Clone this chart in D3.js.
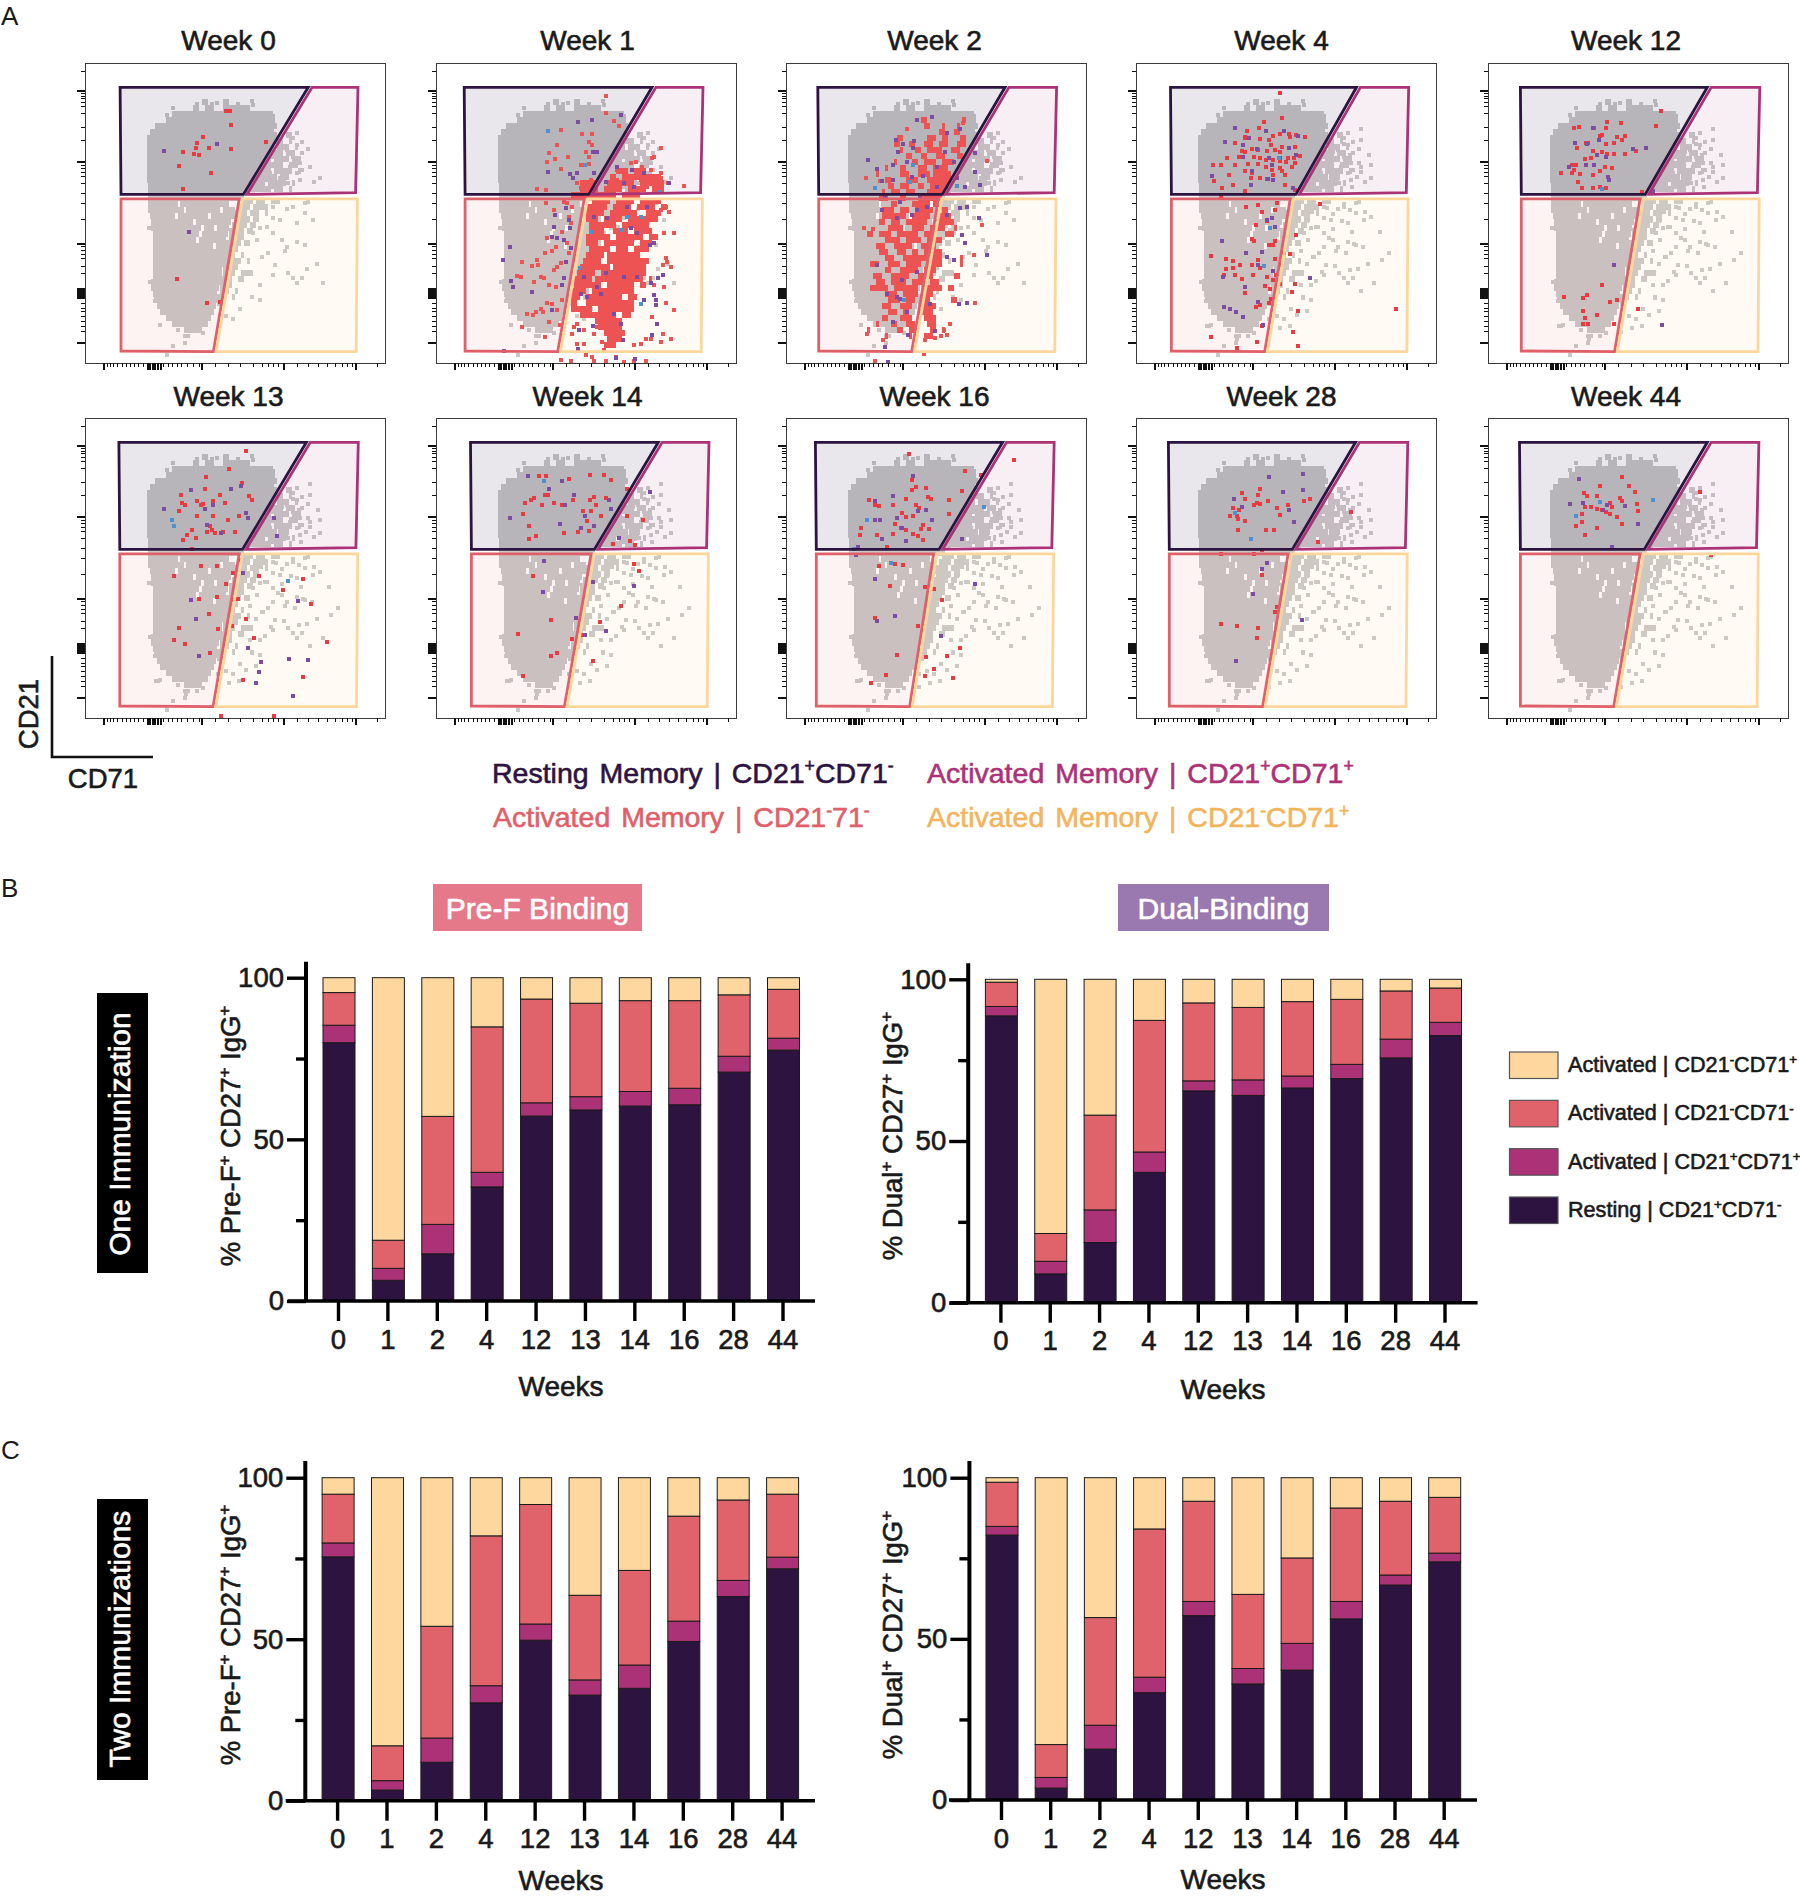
<!DOCTYPE html>
<html><head><meta charset="utf-8">
<script src="https://cdn.jsdelivr.net/npm/d3@7"></script>
<style>
html,body{margin:0;padding:0;background:#fff}
svg{display:block}
text{font-family:"Liberation Sans",Arial,sans-serif;fill:#1a1a1a}
.med{stroke:#1a1a1a;stroke-width:.6px}
</style></head><body>
<svg id="c" width="1800" height="1896"></svg>
<script>
// ---------- categories / labels ----------
const weekTicks = ["0","1","2","4","12","13","14","16","28","44"];
const panelTitles = ["Week 0","Week 1","Week 2","Week 4","Week 12","Week 13","Week 14","Week 16","Week 28","Week 44"];
const seriesKeys = ["resting","plus","neg","pos"];
const seriesColors = ["#2d1340","#ac3277","#e0636b","#fdd79d"];
const legendLabels = ["Activated | CD21^-CD71^+","Activated | CD21^-CD71^-","Activated | CD21^+CD71^+","Resting | CD21^+CD71^-"];

// ---------- stacked bar values (percent) ----------
const preOneResting=[79.9,6.4,14.6,35.3,57.2,59.1,60.3,60.7,70.8,77.6];
const preOnePlus=[5.4,3.7,9.1,4.5,4.1,4.1,4.5,5.1,4.9,3.7];
const preOneNeg=[10.1,8.7,33.4,45,32.1,28.9,28.1,27.1,19,15.1];
const preOnePos=[4.6,81.2,42.9,15.2,6.6,7.9,7.1,7.1,5.3,3.6];
const dualOneResting=[88.7,8.9,18.6,40.3,65.5,64.1,66.4,69.3,75.7,82.6];
const dualOnePlus=[2.9,3.9,10.1,6.3,3.1,4.8,3.7,4.4,5.8,4.1];
const dualOneNeg=[7.5,8.6,29.3,40.7,24.1,22.4,23,20.1,14.9,10.6];
const dualOnePos=[0.9,78.6,42,12.7,7.3,8.7,6.9,6.2,3.6,2.7];
const preTwoResting=[75.5,3.3,11.9,30.3,49.7,32.7,34.8,49.3,63.2,71.8];
const preTwoPlus=[4.3,2.9,7.5,5.3,5,4.7,7.2,6.3,5,3.6];
const preTwoNeg=[15.1,10.8,34.6,46.4,37,26.2,29.3,32.5,24.9,19.5];
const preTwoPos=[5.1,83,46,18,8.3,36.4,28.7,11.9,6.9,5.1];
const dualTwoResting=[82.2,3.7,15.8,33.3,57.2,36,40.3,56.2,66.7,73.9];
const dualTwoPlus=[2.7,3.3,7.4,4.8,4.4,4.8,8.3,5.4,3.1,2.7];
const dualTwoNeg=[13.7,10.2,33.4,46,31.1,23,26.5,29,22.9,17.3];
const dualTwoPos=[1.4,82.8,43.4,15.9,7.3,36.2,24.9,9.4,7.3,6.1];

// ---------- gates, in percent of the plot width / height, one per flow panel ----------
const gateLeft=[11.7,9.4,10.6,11.5,10.8,11.3,11.5,9.8,10.8,10.5];
const gateTopRight=[74.4,72,73,73.5,73.1,73.8,74.1,72.2,73.2,73.1];
const gateApex=[52.8,50.9,52.1,53.3,52.4,52.5,52.8,51,52.1,52.1];
const gateSplitTop=[51.4,49.4,50.8,51.4,50.7,51.4,51.7,49.2,50.7,50.7];
const gateSplitBottom=[42.8,40.6,41.9,42.9,42.2,42.7,42.8,41.2,42.2,41.9];
const gateRight=[91,89,90.2,90.9,90.6,91.1,91,89.4,90.6,90.3];

// ---------- background population: rows [v, u0, u1, u0, u1 ...] in percent of the plot ----------
const greyRows=[[13,39,41,46,48],[15,36,38,40,43,46,55],[17,29,62.8],[19,27,63.3],[21,23.3,64],[23,21.5,63],[25,20.8,62],[27,20.5,61.7],[29,20.5,61],[31,20.5,60],[33,20.5,59.4],[35,20.5,58],[37,20.5,57.5],[39,20.5,57.5],[41,21,57],[43,21,55],[45,21,53],[47,21,31,31.8,48],[49,21,33,33.8,45,46,50],[51,21.5,30,31,41,42,50],[53,22,36,37,48.5],[55,22,38.5,39.5,43,44,48],[57,22.5,38,39,47.5],[59,22.5,37,38,47],[61,22.5,42.5,43.5,47],[63,22.5,46.5],[65,22.5,46],[67,22.5,46],[69,22.5,45.8],[71,22.5,45.5],[73,22,45],[75,22,44.5],[77,22.5,44],[79,23,44],[81,24,43.5],[83,25,43],[85,27,42],[87,29,41],[89,33,39]];
const greyShoulder=[[24,62,64,67,69],[26,60,66,68,69],[28,60,63,64,68,70,71],[30,60,66,67,70],[32,58,62,63,68,69,72],[34,58,66,68,71],[36,57,62,63,69,71,72],[38,56,64,65,68],[40,55,60,61,67,69,70],[42,54,62,63,66,68,69],[46,52,56,57,60,62,65],[48,51,55,56,61],[50,50,54,55,58,60,61],[52,50,55,56,58],[54,49,54,55,57],[56,48,53,54,56],[58,48,53],[60,47,52,53,55],[62,46,51],[64,46,50,52,53],[66,46,52,54,55],[68,46,51],[70,46,50,52,56],[72,45,49,51,53],[74,45,49],[76,45,48,50,51],[78,44,47,49,50],[80,44,46]];
const greySparseA=[[340,295],[320,315],[325,330],[290,350],[410,282],[455,282],[470,280],[495,280],[535,282],[575,273],[580,285],[640,320],[610,310],[710,370],[700,385],[725,395],[710,405],[745,418],[725,430],[660,400],[680,420],[700,440],[640,440],[720,460],[750,470],[710,490],[725,480],[780,505],[763,517],[720,510],[685,520],[660,505],[630,490],[650,470],[670,450],[690,470],[600,470],[620,510],[640,530],[640,590],[610,595],[590,590],[680,597],[700,592],[735,580],[745,575],[735,610],[760,630],[712,640],[660,630],[640,625],[620,650],[600,655],[560,632],[640,670],[665,690],[710,695],[735,705],[590,690],[580,670],[680,710],[675,722],[625,730],[605,742],[645,765],[640,795],[772,762],[742,776],[685,790],[700,805],[710,818],[725,803],[790,818],[600,825],[600,870],[575,860],[540,895],[520,927],[498,918],[408,962],[428,967],[300,945],[375,978],[385,978],[375,997],[338,1008],[320,1035],[268,655],[320,665],[270,815],[285,872],[355,960]];
const greySparseB=[[1365,1005],[1365,1030],[1385,1065],[1360,1085],[1390,1090],[1365,1105],[1355,1118],[1340,1065],[1320,1090],[1300,1060],[1325,1040],[1295,1110],[1310,1130],[1345,1140],[1280,1085],[1325,1180],[1285,1190],[1340,1195],[1375,1200],[1390,1210],[1410,1245],[1345,1245],[1300,1240],[1260,1235],[1240,1220],[1280,1280],[1350,1275],[1370,1280],[1430,1295],[1415,1312],[1330,1295],[1305,1325],[1340,1335],[1275,1340],[1240,1320],[1225,1290],[1260,1360],[1225,1370],[1230,1400],[1365,1383],[1240,1430],[1215,1440],[1200,1465],[1175,1470],[1150,1480],[1100,1490],[1075,1495],[1010,1465],[1150,1450],[1005,1465],[1255,1305],[1290,1260],[1320,1220],[1250,1200],[1300,1205],[1220,1180]];

// ---------- antigen-specific cells, read per panel ----------
const week0Red=[[498,303],[510,305],[512,345],[428,383],[411,400],[408,414],[369,426],[401,433],[418,435],[447,415],[512,418],[619,396],[358,467],[453,488],[369,537],[351,807],[440,878],[480,875]];
const week0Purple=[[312,422],[471,401],[388,665]];
const week0Blue=[];
const week1Rows=[[36,60,64,66,70],[38,58,60,62,75],[40,48,53,57,66,68,76],[42,48,54,56,62,64,70,72,76],[44,45,60,62,68],[46,52,58,60,66,68,75],[48,50,57,59,65,67,73,75,77],[50,50,56,58,67,70,75],[52,50,54,56,62,64,74],[54,51,60,62,71],[56,51,56,59,64,66,72],[58,50,58,60,69,71,74],[60,50,54,56,66,68,72],[62,51,58,60,64,66,71],[64,50,56,57,68],[66,49,55,57,71],[68,48,58,59,70],[70,47,53,55,70],[72,46,52,53,69,71,72],[74,46,55,57,66,68,70],[76,45,50,52,66],[78,45,48,50,62,64,67],[80,45,47,50,66],[82,45,52,54,66],[84,48,60,62,65],[86,53,62],[88,54,62],[90,56,63],[92,57,62],[94,56,60]];
const week1Red=[[557,260],[557,310],[595,350],[580,333],[420,362],[484,373],[515,372],[505,397],[513,405],[410,404],[386,428],[442,441],[404,446],[380,456],[497,426],[505,440],[506,462],[482,465],[420,478],[590,480],[610,490],[630,460],[665,470],[645,455],[695,445],[720,415],[700,440],[690,480],[720,490],[790,527],[740,520],[720,505],[660,510],[680,530],[590,510],[620,505],[350,537],[375,540],[470,520],[480,535],[500,525],[510,510],[290,798],[350,750],[333,767],[353,765],[305,755],[372,728],[393,722],[407,710],[380,683],[375,578],[400,600],[360,800],[370,805],[385,825],[405,830],[340,815],[300,800],[410,770],[400,780],[420,760],[440,700],[425,665],[430,690],[345,905],[318,910],[337,915],[360,895],[368,905],[393,880],[378,878],[305,950],[372,980],[385,935],[418,945],[410,900],[425,870],[445,730],[450,640],[445,620],[455,590],[440,580],[430,575],[735,745],[738,755],[725,765],[760,670],[730,668],[750,770],[728,832],[700,825],[735,877],[760,900],[695,920],[725,970],[750,985],[695,975],[690,987],[675,985],[660,1000],[720,995],[640,1005],[495,1035],[515,1040],[550,1020],[585,1040],[610,1055],[420,1050],[450,1052],[520,1052],[555,1052],[640,1052],[675,1052],[470,1000],[490,1000],[455,970],[460,950],[490,960],[520,970],[545,995],[530,950],[745,605],[735,590],[720,600],[470,940]];
const week1Purple=[[515,330],[600,317],[472,338],[518,425],[528,425],[381,485],[448,493],[457,505],[470,490],[403,615],[435,595],[445,630],[400,650],[447,655],[270,710],[247,750],[272,812],[277,832],[333,845],[395,682],[410,685],[430,690],[450,715],[435,755],[430,805],[425,825],[395,898],[475,960],[518,948],[472,1017],[643,1045],[252,1022],[585,1042],[608,990],[700,855],[705,870],[705,885],[708,940],[695,973],[688,705],[725,795],[712,805],[690,820],[670,870],[520,620],[560,625],[630,655],[650,670],[540,850],[500,860],[530,830],[580,910],[600,940],[555,790],[490,800],[480,850],[610,800],[650,800],[700,700],[620,590],[680,590],[590,470],[635,480],[670,490],[555,515],[610,520],[640,530],[520,490],[745,520]];
const week1Blue=[[381,365],[493,465],[478,775],[510,665],[605,660],[660,880],[620,620],[660,620],[718,545]];
const week2Rows=[[19,45,47,59,60],[21,46,48,52,53,57,58],[23,51,53,56,58],[25,37,39,47,50,52,54,58,60],[27,36,38,41,43,46,49,51,54,57,60],[29,38,39,43,45,47,52,55,58],[31,40,42,45,47,50,53,57,59],[33,36,37,42,44,46,50,52,56],[35,33,34,38,40,44,47,49,54],[37,30,31,38,41,44,48,49,55],[39,33,35,40,44,47,55],[41,34,36,38,41,44,46,48,54],[43,32,33,35,38,40,43,47,53],[45,31,34,38,40,44,52],[47,35,37,42,48,49,51],[49,32,36,38,41,43,49,52,54],[51,32,40,42,48,51,55],[53,31,33,35,38,40,47,50,56],[55,34,39,42,46,48,53,56,57],[57,27,29,31,35,37,44,46,50,53,56],[59,33,38,40,45,47,52],[61,30,33,36,42,45,50],[63,31,34,37,40,42,44,46,52],[65,33,36,39,47,48,52,58,59],[67,28,31,34,38,40,45,47,52,58,59],[69,33,35,38,44,46,50],[71,29,32,35,41,44,49,56,58],[73,30,33,35,40,42,46,48,51],[75,28,34,36,44,46,52,54,56],[77,33,37,39,44,46,49],[79,34,38,40,43,45,48,55,57],[81,32,35,38,42,45,50],[83,34,37,39,41,44,49],[85,32,34,38,42,46,50],[87,30,31,35,37,40,43,47,50],[89,27,28,37,39,41,43,48,50,52,53],[91,33,34,41,42,46,49]];
const week2Red=[[550,192],[548,205],[380,222],[620,318],[258,368],[300,378],[252,518],[280,522],[605,510],[585,742],[490,823],[510,805],[262,835],[310,855],[285,918],[432,897],[465,848],[482,843],[500,840],[434,853],[580,600]];
const week2Purple=[[410,196],[457,188],[540,222],[500,235],[348,255],[370,268],[403,258],[400,280],[355,290],[495,290],[585,295],[265,315],[290,343],[340,330],[380,320],[430,362],[470,335],[520,320],[585,350],[305,378],[340,375],[395,365],[470,395],[530,370],[555,395],[600,390],[315,430],[360,440],[410,465],[305,465],[420,430],[440,455],[350,490],[395,480],[500,480],[540,460],[560,455],[595,490],[545,540],[555,565],[620,600],[500,605],[520,615],[290,630],[410,650],[365,675],[320,715],[350,725],[360,730],[560,742],[535,745],[380,770],[450,745],[340,800],[385,838],[465,828],[315,875],[325,920]];
const week2Blue=[[400,330],[285,400],[390,380],[530,392],[372,735]];
const week4Red=[[352,89],[314,158],[355,148],[273,178],[302,172],[268,192],[268,195],[305,197],[325,198],[335,190],[350,185],[372,185],[375,192],[388,188],[410,193],[330,210],[355,215],[385,215],[245,205],[262,225],[270,228],[285,220],[300,222],[320,225],[340,222],[352,228],[370,240],[383,240],[398,237],[228,242],[255,238],[290,238],[305,240],[318,245],[335,245],[350,248],[365,250],[385,252],[195,258],[212,257],[245,258],[275,255],[300,255],[318,263],[332,268],[352,265],[378,262],[270,272],[285,275],[355,272],[335,280],[362,280],[232,280],[283,287],[305,287],[320,290],[197,295],[242,303],[215,312],[362,303],[270,318],[385,315],[212,332],[445,349],[300,350],[272,355],[345,347],[340,362],[310,368],[320,388],[295,398],[388,420],[340,402],[285,430],[290,435],[325,445],[335,445],[340,435],[360,462],[375,465],[190,470],[225,478],[240,482],[258,490],[285,492],[300,480],[305,497],[340,478],[350,490],[225,500],[240,497],[220,515],[245,515],[262,523],[288,514],[320,520],[342,515],[335,525],[315,540],[328,548],[350,535],[380,555],[385,535],[270,557],[295,590],[305,585],[330,570],[325,580],[393,598],[300,578],[190,659],[250,684],[298,670],[382,648],[393,681],[623,593],[310,633]];
const week4Purple=[[245,172],[318,178],[360,178],[392,190],[278,195],[222,203],[265,210],[298,220],[372,218],[388,235],[265,238],[325,240],[352,240],[332,258],[285,272],[323,290],[192,283],[335,292],[282,305],[382,312],[333,381],[320,385],[215,434],[272,463],[340,403],[310,460],[300,490],[218,520],[270,542],[220,588],[235,594],[248,600],[264,612],[300,578],[312,632],[421,522],[335,505]];
const week4Blue=[[348,240],[328,404],[313,494]];
const week12Red=[[1243,132],[1150,160],[1118,158],[1115,170],[1233,167],[1053,168],[1040,172],[1088,172],[1105,187],[1100,190],[1142,193],[1160,190],[1068,205],[1072,207],[1047,218],[1115,208],[1135,207],[1152,200],[1085,225],[1105,228],[1135,232],[1160,232],[1185,225],[1118,232],[1080,240],[1065,243],[1035,258],[1045,258],[1040,268],[1112,262],[1130,265],[1010,276],[1035,275],[1055,278],[1100,272],[1085,280],[1050,297],[1060,312],[1085,310],[1100,308],[1115,312],[1200,320],[1190,594],[1018,566],[1062,568],[1070,560],[1106,538],[1125,578],[1140,572],[1062,598],[1095,607],[1065,615],[1062,630],[1073,630],[1135,630]];
const week12Purple=[[1085,172],[1098,198],[1043,205],[1070,208],[1178,220],[1208,218],[1095,235],[1115,238],[1068,258],[1088,258],[1120,285],[1122,292],[1135,492],[1245,632],[1225,318],[1028,262]];
const week12Blue=[[1105,313]];
const week13Red=[[255,125],[230,177],[194,203],[250,220],[192,237],[155,255],[260,258],[157,280],[162,285],[180,275],[187,287],[190,283],[205,275],[215,255],[223,280],[265,272],[152,305],[180,318],[205,318],[228,330],[244,318],[172,360],[200,350],[203,360],[207,370],[220,368],[238,368],[164,375],[178,385],[158,392],[195,368],[172,418],[187,470],[211,470],[235,490],[275,500],[144,500],[343,508],[225,523],[313,540],[211,562],[183,568],[243,568],[236,570],[356,582],[198,613],[255,628],[212,658],[152,655],[234,650],[267,684],[145,690],[161,704],[380,698],[200,730],[251,810],[343,803],[217,918],[298,918]];
const week13Purple=[[248,228],[232,238],[171,240],[130,298],[192,298],[204,287],[255,310],[258,325],[299,325],[195,345],[217,370],[303,380],[245,450],[251,490],[171,570],[335,575],[178,628],[183,740],[259,716],[279,758],[322,748],[350,750],[275,788],[271,820],[327,858]];
const week13Blue=[[141,332],[144,350],[320,515]];
const week14Red=[[705,198],[716,198],[783,197],[805,196],[815,210],[751,208],[840,237],[697,265],[692,272],[714,255],[718,255],[683,280],[710,287],[728,280],[740,287],[757,272],[783,270],[790,262],[808,265],[792,285],[772,305],[785,305],[681,312],[778,335],[689,350],[743,370],[764,368],[782,365],[700,378],[690,388],[800,320],[840,318],[865,330],[818,403],[845,393],[852,405],[850,462],[858,484],[696,500],[830,588],[724,631],[799,638],[672,672],[773,675],[755,687],[732,730],[724,740],[788,754],[681,800]];
const week14Purple=[[688,198],[740,215],[720,237],[758,255],[812,270],[745,285],[816,297],[661,325],[775,320],[737,342],[790,350],[770,355],[828,385],[875,247],[713,455],[787,518],[850,530],[711,547],[762,625],[808,665],[775,677]];
const week14Blue=[[713,215]];
const week16Red=[[1274,132],[1436,152],[1360,185],[1385,195],[1278,210],[1300,235],[1285,232],[1278,242],[1355,245],[1303,262],[1213,270],[1270,268],[1308,268],[1222,285],[1228,290],[1250,287],[1285,285],[1290,295],[1335,272],[1263,310],[1270,322],[1280,320],[1295,345],[1335,312],[1252,343],[1262,355],[1270,360],[1200,355],[1292,358],[1198,375],[1225,375],[1250,372],[1280,372],[1305,358],[1288,380],[1295,392],[1240,413],[1228,470],[1252,462],[1265,465],[1245,530],[1298,532],[1312,538],[1325,570],[1222,625],[1288,648],[1352,715],[1255,737],[1300,742],[1333,740],[1313,778],[1238,797],[1298,798],[1341,806],[1215,820]];
const week16Purple=[[1280,198],[1250,258],[1222,275],[1300,302],[1288,305],[1255,325],[1310,330],[1230,330],[1222,332],[1263,355],[1232,388],[1270,395],[1195,413],[1356,388],[1192,435],[1221,508],[1375,522],[1253,620],[1225,633],[1323,680]];
const week16Blue=[[1390,293],[1210,330],[1247,460],[1190,418]];
const week28Red=[[263,1027],[300,1030],[305,1017],[298,1050],[305,1052],[290,1055],[270,1040],[243,1040],[240,1062],[255,1065],[233,1080],[250,1080],[252,1087],[268,1092],[322,1045],[345,1062],[370,1055],[408,1045],[420,1040],[352,1078],[253,1113],[318,1113],[336,1112],[517,1070],[439,1141],[212,1168],[290,1168],[308,1160],[308,1218],[345,1293],[340,1305],[212,1333],[250,1336],[300,1342],[298,1364]];
const week28Purple=[[325,988],[405,983],[358,1023],[405,1020],[243,1040],[262,1058],[372,1065],[383,1095],[320,1190],[308,1203],[288,1263],[402,1323],[248,1418]];
const week28Blue=[[283,1134],[245,1073]];
const week44Red=[[1153,990],[1100,1010],[1063,1027],[1070,1033],[1095,1033],[1148,1037],[1170,1010],[1183,1023],[1153,1045],[1187,1053],[1065,1060],[1080,1060],[1095,1063],[1105,1065],[1125,1050],[1130,1060],[1190,1068],[1115,1070],[1125,1075],[1058,1075],[1060,1093],[1045,1103],[1093,1108],[1140,1082],[1153,1098],[1065,1125],[1335,1025],[1360,1172]];
const week44Purple=[[1053,993],[1030,1053],[1062,1050],[1118,1055],[1108,1065],[1160,1057],[1190,1098],[1130,1152]];
const week44Blue=[[1100,1048],[1045,1081],[1225,1043]];

// readout windows of the lists above
const readX=[[75,975],[47,945],[18,917],[14,716],[839,1541],[8,469],[547,1007],[1085,1546],[14,716],[839,1541]];
const readY=[[160,1058],[160,1058],[25,923],[19,720],[19,720],[25,925],[25,925],[25,925],[851,1552],[851,1552]];
const redLists=[week0Red,week1Red,week2Red,week4Red,week12Red,week13Red,week14Red,week16Red,week28Red,week44Red];
const purpleLists=[week0Purple,week1Purple,week2Purple,week4Purple,week12Purple,week13Purple,week14Purple,week16Purple,week28Purple,week44Purple];
const blueLists=[week0Blue,week1Blue,week2Blue,week4Blue,week12Blue,week13Blue,week14Blue,week16Blue,week28Blue,week44Blue];
const denseRows=[[],week1Rows,week2Rows,[],[],[],[],[],[],[]];

// flow axis tick positions (percent of the plot)
const flowYMajor=[9.2,32.9,60.2,93,75,75.5,76,76.5,77,77.5,78,78.3];
const flowYMinor=[2.8,10,10.9,11.8,13,14.4,16.7,21.3,25.8,33.9,35,36.4,37.8,40,43.3,46.7,52,61.1,62.2,63.7,65,67.8,70,80,81.7,82.8,84.2,86.1,87.8,89.4];
const flowXMajor=[6.1,20.8,21.6,22.4,23.2,24,25,38.9,66.1,90];
const flowXMinor=[7.2,8.3,9.4,10.8,12.2,13.7,15,16.3,17.8,19.4,26.1,27.5,29,30.5,32,34,36,38,43.3,47.8,51.7,56,58.9,61.1,62.8,64.4,70.6,74.4,77.8,80.6,83.3,85.6,87.2,88.9,97.2];

// ---------- layout ----------
const svg=d3.select("#c");
svg.append("rect").attr("width",1800).attr("height",1896).attr("fill","#fff");
const FONT=28.5;
function rich(sel,str,fs){
  const parts=str.split(/(\^.)/).filter(s=>s.length);
  let shift=0;
  parts.forEach(p=>{
    if(p[0]==="^"){
      sel.append("tspan").attr("dy",(-0.36*fs)-shift).attr("font-size",fs*0.62).text(p[1]);shift=-0.36*fs;
    }else{
      sel.append("tspan").attr("dy",-shift).attr("font-size",fs).text(p);shift=0;
    }
  });
  return sel;
}
function label(x,y,str,opt={}){
  const fs=opt.fs||FONT;
  const t=svg.append("text").attr("x",x).attr("y",y).attr("text-anchor",opt.anchor||"middle").attr("class",opt.cls===undefined?"med":opt.cls);
  if(opt.color){t.style("fill",opt.color).style("stroke",opt.color);}
  if(opt.rot){t.attr("transform",`rotate(${opt.rot} ${x} ${y})`);}
  if(opt.ls)t.attr("word-spacing",opt.ls);
  rich(t,str,fs);
  return t;
}

// panel letters
label(1,25,"A",{anchor:"start",fs:26,cls:"plain"});
label(1,897,"B",{anchor:"start",fs:26,cls:"plain"});
label(1,1459,"C",{anchor:"start",fs:26,cls:"plain"});

// flow panels
const gateColors=["#2d1440","#ac3277","#e0606a","#fdd69b"];
const gateFills=["rgba(45,20,70,.1)","rgba(170,50,120,.08)","rgba(224,96,106,.08)","rgba(253,214,150,.1)"];
const panelX=[85,436,786,1136,1488];
const panelY=[63,418];
const titleX=[228.5,587.5,934.5,1281.5,1626];
const titleY=[49.5,406];
const W=300,H=300;
const uX=d3.scaleLinear().domain([0,100]).range([0,W]);
const uY=d3.scaleLinear().domain([0,100]).range([0,H]);
const CELL=4;
function drawRows(g,rows,color,h){
  rows.forEach(r=>{
    for(let i=1;i<r.length;i+=2){
      g.append("rect").attr("x",uX(r[i])).attr("y",uY(r[0])-h/2)
        .attr("width",uX(r[i+1])-uX(r[i])).attr("height",h).attr("fill",color);
    }
  });
}
function drawCells(g,list,xs,ys,color){
  g.selectAll(null).data(list).enter().append("rect")
    .attr("x",d=>xs(d[0])-CELL/2).attr("y",d=>ys(d[1])-CELL/2)
    .attr("width",CELL).attr("height",CELL).attr("fill",color);
}
const sparseAx=d3.scaleLinear().domain([75,975]).range([0,W]);
const sparseAy=d3.scaleLinear().domain([160,1058]).range([0,H]);
const sparseBx=d3.scaleLinear().domain([839,1541]).range([0,W]);
const sparseBy=d3.scaleLinear().domain([851,1552]).range([0,H]);
const gateLine=d3.line().x(d=>uX(d[0])).y(d=>uY(d[1]));

panelTitles.forEach((title,i)=>{
  const col=i%5,row=Math.floor(i/5);
  const ox=panelX[col],oy=panelY[row];
  label(titleX[col],titleY[row],title,{fs:28});
  const g=svg.append("g").attr("transform",`translate(${ox},${oy})`).attr("shape-rendering","crispEdges");
  const xs=d3.scaleLinear().domain(readX[i]).range([0,W]);
  const ys=d3.scaleLinear().domain(readY[i]).range([0,H]);
  const grey="#c8c8c8";
  drawRows(g,greyRows,grey,uY(2)+.4);
  drawRows(g,greyShoulder,grey,uY(1.7));
  drawCells(g,greySparseA,sparseAx,sparseAy,grey);
  if(i>2) drawCells(g,greySparseB,sparseBx,sparseBy,grey);
  const L=gateLeft[i],TR=gateTopRight[i],A=gateApex[i],ST=gateSplitTop[i],SB=gateSplitBottom[i],R=gateRight[i];
  const polys=[
    [[L,8.1],[TR,8.1],[A,43.8],[L+.3,43.8]],
    [[TR+1.3,8.1],[R,8.1],[R-.8,43.2],[A+1.2,43.8]],
    [[L+.3,45.3],[ST,45.3],[SB,96.2],[L+.3,96]],
    [[ST+1.1,45.3],[R-.2,45.3],[R-.6,96.2],[SB+.9,96.2]]
  ];
  polys.forEach((p,k)=>g.append("path").attr("d",gateLine(p)+"Z").attr("fill",gateFills[k]));
  const red=(i===1||i===2)?"#ee5353":"#e93a42";
  drawRows(g,denseRows[i],"#ee5353",uY(i===2?1.8:2));
  drawCells(g,redLists[i],xs,ys,red);
  drawCells(g,purpleLists[i],xs,ys,"#7b4ca1");
  drawCells(g,blueLists[i],xs,ys,"#5091cd");
  const order=[2,3,1,0];
  order.forEach(k=>g.append("path").attr("d",gateLine(polys[k])+"Z").attr("fill","none")
     .attr("stroke",gateColors[k]).attr("stroke-width",2.8).attr("stroke-linejoin","miter").attr("shape-rendering","auto"));
  g.append("rect").attr("width",W).attr("height",H).attr("fill","none").attr("stroke","#3a3a3a").attr("stroke-width",1);
  const ax=(gen,sw)=>{const a=g.append("g").call(gen);a.select(".domain").remove();a.selectAll("text").remove();a.selectAll("line").attr("stroke","#111").attr("stroke-width",sw);return a;};
  ax(d3.axisLeft(uY).tickValues(flowYMinor).tickSize(4.5),1);
  ax(d3.axisLeft(uY).tickValues(flowYMajor).tickSize(8),2);
  ax(d3.axisBottom(uX).tickValues(flowXMinor).tickSize(4),1).attr("transform",`translate(0,${H})`);
  ax(d3.axisBottom(uX).tickValues(flowXMajor).tickSize(7),2).attr("transform",`translate(0,${H})`);
});

// CD21 / CD71 key
const keyX=d3.scaleLinear().domain([0,1]).range([52,153]);
const keyY=d3.scaleLinear().domain([0,1]).range([757,656]);
svg.append("path").attr("d",d3.line().x(d=>keyX(d[0])).y(d=>keyY(d[1]))([[0,1],[0,0],[1,0]])).attr("fill","none").attr("stroke","#111").attr("stroke-width",2.6);
label(38,714,"CD21",{rot:-90,fs:27.5});
label(103,787.5,"CD71",{fs:27.5});

// gate legend
label(492,782.5,"Resting Memory | CD21^+CD71^-",{anchor:"start",color:"#2d1440",ls:3});
label(927,782.5,"Activated Memory | CD21^+CD71^+",{anchor:"start",color:"#ac3277",ls:3});
label(493,827,"Activated Memory | CD21^-71^-",{anchor:"start",color:"#e0606a",ls:3});
label(927,827,"Activated Memory | CD21^-CD71^+",{anchor:"start",color:"#f2b55e",ls:3});

// header badges
svg.append("rect").attr("x",433).attr("y",884).attr("width",209).attr("height",47).attr("fill","#e5798a");
label(537.5,918.5,"Pre-F Binding",{color:"#fff",fs:30});
svg.append("rect").attr("x",1118).attr("y",884).attr("width",211).attr("height",47).attr("fill","#9a78b0");
label(1223.5,918.5,"Dual-Binding",{color:"#fff",fs:30});

// immunization badges
svg.append("rect").attr("x",97).attr("y",993).attr("width",51).attr("height",280).attr("fill","#000");
label(130,1134,"One Immunization",{rot:-90,color:"#fff",fs:30});
svg.append("rect").attr("x",97).attr("y",1499).attr("width",51).attr("height",281).attr("fill","#000");
label(130,1639,"Two Immunizations",{rot:-90,color:"#fff",fs:30});

// stacked bars
const charts=[
 {vals:[preOneResting,preOnePlus,preOneNeg,preOnePos],ax:306,x0:338,x1:782.5,y100:977.7,y0:1301,top:961.7,left:287.8,right:815,lab:"% Pre-F^+ CD27^+ IgG^+",lx:240,ly:1136,wx:561,wy:1396},
 {vals:[dualOneResting,dualOnePlus,dualOneNeg,dualOnePos],ax:968.2,x0:1000.4,x1:1444.5,y100:979.3,y0:1302.7,top:963.3,left:949.8,right:1477.6,lab:"% Dual^+ CD27^+ IgG^+",lx:902,ly:1136,wx:1223,wy:1399},
 {vals:[preTwoResting,preTwoPlus,preTwoNeg,preTwoPos],ax:305.3,x0:337.1,x1:781.6,y100:1477.7,y0:1800.7,top:1461,left:285.7,right:815,lab:"% Pre-F^+ CD27^+ IgG^+",lx:240,ly:1635,wx:561,wy:1890},
 {vals:[dualTwoResting,dualTwoPlus,dualTwoNeg,dualTwoPos],ax:969.4,x0:1001,x1:1443.7,y100:1477.7,y0:1800,top:1461,left:949,right:1477,lab:"% Dual^+ CD27^+ IgG^+",lx:902,ly:1635,wx:1223,wy:1889}
];
const BARW=32;
charts.forEach(c=>{
  const rows=weekTicks.map((w,i)=>{const o={week:w};seriesKeys.forEach((k,j)=>o[k]=c.vals[j][i]);return o;});
  const stacked=d3.stack().keys(seriesKeys)(rows);
  const x=d3.scalePoint().domain(weekTicks).range([c.x0,c.x1]);
  const y=d3.scaleLinear().domain([0,100]).range([c.y0,c.y100]);
  const g=svg.append("g");
  stacked.forEach((s,j)=>{
    g.selectAll(null).data(s).enter().append("rect")
      .attr("x",d=>x(d.data.week)+1-BARW/2).attr("width",BARW)
      .attr("y",d=>y(d[1])).attr("height",d=>y(d[0])-y(d[1]))
      .attr("fill",seriesColors[j]).attr("stroke","#1a1a1a").attr("stroke-width",1);
  });
  const axisG=svg.append("g");
  const xa=axisG.append("g").attr("transform",`translate(0,${c.y0})`)
     .call(d3.axisBottom(x).tickSize(20).tickPadding(4));
  xa.select(".domain").remove();
  xa.selectAll("line").attr("stroke","#000").attr("stroke-width",3.4);
  xa.selectAll("text").attr("font-size",27.5).attr("class","med").attr("y",28).attr("dy","0.71em");
  const ya=axisG.append("g").attr("transform",`translate(${c.ax},0)`)
     .call(d3.axisLeft(y).tickValues([0,50,100]).tickSize(19).tickPadding(3));
  ya.select(".domain").remove();
  ya.selectAll("line").attr("stroke","#000").attr("stroke-width",3.4);
  ya.selectAll("text").attr("font-size",27.5).attr("class","med");
  const ym=axisG.append("g").attr("transform",`translate(${c.ax},0)`)
     .call(d3.axisLeft(y).tickValues([25,75]).tickSize(10).tickFormat(""));
  ym.select(".domain").remove();
  ym.selectAll("line").attr("stroke","#000").attr("stroke-width",3.4);
  const ln=d3.line();
  axisG.append("path").attr("d",ln([[c.ax,c.top],[c.ax,c.y0]])).attr("stroke","#000").attr("stroke-width",4).attr("fill","none");
  axisG.append("path").attr("d",ln([[c.left,c.y0],[c.right,c.y0]])).attr("stroke","#000").attr("stroke-width",3.6).attr("fill","none");
  label(c.lx,c.ly,c.lab,{rot:-90,fs:27.5});
  label(c.wx,c.wy,"Weeks",{fs:28});
});

// bar legend
const legendY=d3.scalePoint().domain(legendLabels).range([1052,1197]);
legendLabels.forEach((t,i)=>{
  const yy=legendY(t);
  svg.append("rect").attr("x",1509.5).attr("y",yy).attr("width",48.5).attr("height",26.5)
    .attr("fill",seriesColors[3-i]).attr("stroke","#555").attr("stroke-width",1.2);
  label(1568,yy+20,t,{anchor:"start",fs:21.6});
});
</script>
</body></html>
